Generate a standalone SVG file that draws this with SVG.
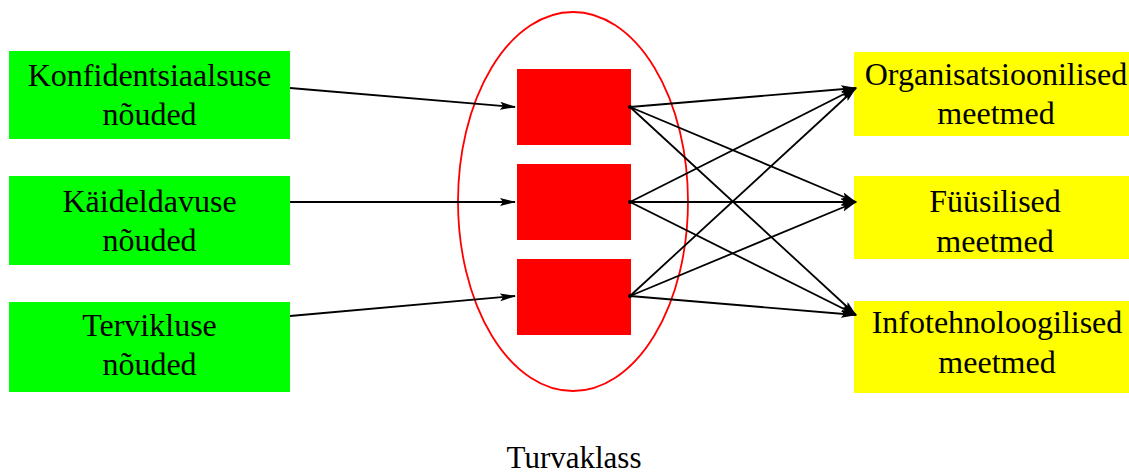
<svg xmlns="http://www.w3.org/2000/svg" width="1129" height="474" viewBox="0 0 1129 474">
<style>
text{font-family:"Liberation Serif","Times New Roman",serif;font-size:32px;fill:#000;text-anchor:middle}
.g{fill:#00ff00}
.y{fill:#ffff00}
.r{fill:#ff0000}
.c line{stroke:#000;stroke-width:1.8;marker-end:url(#ah)}
</style>
<defs>
<marker id="ah" markerWidth="16" markerHeight="10" refX="15" refY="4" orient="auto" markerUnits="userSpaceOnUse">
<path d="M0,0 L16,4 L0,8 L3,4 Z" fill="#000"/>
</marker>
</defs>
<rect width="1129" height="474" fill="#fff"/>
<g id="n-konf"><rect class="g" x="9" y="51" width="281" height="88"/><text x="149.5" y="86">Konfidentsiaalsuse</text><text x="149.5" y="125">nõuded</text></g>
<g id="n-kaid"><rect class="g" x="9" y="176" width="281" height="89"/><text x="149.5" y="212">Käideldavuse</text><text x="149.5" y="251">nõuded</text></g>
<g id="n-terv"><rect class="g" x="9" y="302" width="281" height="90"/><text x="149.5" y="336">Tervikluse</text><text x="149.5" y="375">nõuded</text></g>
<g id="turvaklass"><ellipse cx="573" cy="201.5" rx="115" ry="189.5" fill="none" stroke="#ff0000" stroke-width="1.8"/><text x="574" y="468" style="font-size:31px">Turvaklass</text></g>
<g id="k1"><rect class="r" x="517" y="69" width="114" height="76"/></g>
<g id="k2"><rect class="r" x="517" y="164" width="114" height="76"/></g>
<g id="k3"><rect class="r" x="517" y="259" width="114" height="76"/></g>
<g id="m-org"><rect class="y" x="854" y="52" width="275" height="84"/><text x="996" y="85">Organisatsioonilised</text><text x="996" y="124">meetmed</text></g>
<g id="m-fys"><rect class="y" x="854" y="176" width="275" height="83"/><text x="995" y="212">Füüsilised</text><text x="995" y="252">meetmed</text></g>
<g id="m-it"><rect class="y" x="854" y="301" width="275" height="92"/><text x="997" y="333">Infotehnoloogilised</text><text x="997" y="373">meetmed</text></g>
<g id="connectors" class="c">
<line x1="290" y1="88" x2="515" y2="107"/>
<line x1="290" y1="202" x2="515" y2="202"/>
<line x1="290" y1="316" x2="515" y2="296"/>
<line x1="630" y1="107" x2="856" y2="88"/>
<line x1="630" y1="107" x2="856" y2="202"/>
<line x1="630" y1="107" x2="856" y2="315"/>
<line x1="630" y1="202" x2="856" y2="88"/>
<line x1="630" y1="202" x2="856" y2="202"/>
<line x1="630" y1="202" x2="856" y2="315"/>
<line x1="630" y1="296" x2="856" y2="88"/>
<line x1="630" y1="296" x2="856" y2="202"/>
<line x1="630" y1="296" x2="856" y2="315"/>
<circle cx="630" cy="107" r="2"/><circle cx="630" cy="202" r="2"/><circle cx="630" cy="296" r="2"/>
</g>
</svg>
